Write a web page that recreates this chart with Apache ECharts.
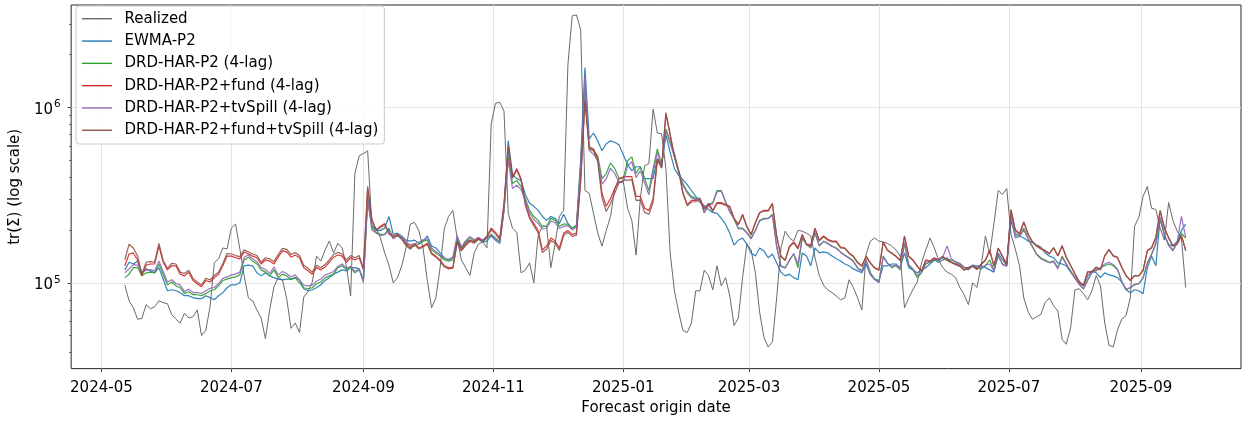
<!DOCTYPE html>
<html>
<head>
<meta charset="utf-8">
<title>tr(Σ) forecasts vs realized</title>
<script src="https://cdn.jsdelivr.net/npm/echarts@6/dist/echarts.min.js"></script>
<style>
  html, body { margin: 0; padding: 0; background: #ffffff; }
  #chart { width: 1248px; height: 421px; }
</style>
</head>
<body>
<div id="chart"></div>
<script>
// Daily forecast origins, sampled every second day from 2024-05-12.
const START_DATE = Date.UTC(2024, 4, 12);
const STEP_DAYS = 2;
const DAY_MS = 86400000;
// Series values are written in thousands.
const UNIT = 1000;

const realized = [
  97, 79, 72, 62, 62.6, 75, 71, 73, 79, 77,
  76, 66, 62, 59, 67, 63, 64, 70, 50, 53.5,
  73, 130, 137, 158, 156, 205, 216, 156, 110, 82,
  79, 70, 63, 48, 70, 95, 107, 104, 81, 55,
  59, 52, 83, 89, 101, 142, 133, 154, 173, 148,
  168, 158, 125, 84, 420, 530, 545, 566, 210, 205,
  180, 148, 126, 100, 107, 125, 158, 216, 221, 199,
  158, 103, 72, 82, 122, 205, 239, 259, 180, 135,
  122, 110, 148, 166, 171, 158, 805, 1057, 1071, 953,
  249, 205, 194, 114, 118, 130, 100, 185, 210, 210,
  122, 168, 239, 259, 1758, 3330, 3373, 2773, 336, 324,
  249, 192, 162, 199, 239, 345, 378, 378, 266, 227,
  144, 303, 466, 478, 978, 715, 707, 448, 148, 90,
  68, 53.5, 52, 59, 90, 90, 118, 110, 91, 125,
  96, 107, 84, 57, 63, 107, 166, 154, 114, 68,
  49, 43, 46, 82, 158, 197, 180, 173, 199, 197,
  192, 185, 139, 110, 97, 91, 88, 84, 80, 82,
  104, 94, 82, 70, 146, 173, 180, 173, 171, 168,
  162, 154, 142, 72, 82, 92, 101, 130, 154, 180,
  158, 135, 122, 115, 112, 107, 94, 85.5, 75, 100,
  94, 125, 185, 146, 218, 336, 319, 345, 189, 156,
  125, 82, 68.5, 62, 64, 66, 77, 82, 74, 69,
  47.6, 44.6, 55.6, 91, 92.5, 86.7, 80, 90, 110, 96,
  59, 44, 43, 54, 62, 65, 82, 210, 236, 311,
  354, 266, 262, 205, 175, 287, 227, 197, 180, 94
];

const ewmaP2 = [
  118.5, 131, 128, 133, 114, 120, 117, 114, 122, 105,
  90.1, 91.3, 90.1, 87.8, 84.4, 84.4, 82.3, 81.2, 81.2, 84.4,
  82.3, 80.1, 84.4, 87.8, 93.7, 97.4, 97.4, 100, 125, 126,
  125, 114, 109.5, 114, 109.5, 107, 105, 104, 105, 105,
  107, 104, 92.5, 90.1, 91.3, 93.7, 97.4, 103, 107, 112,
  115, 118.5, 117, 122, 122, 120, 104, 303, 210, 199,
  199, 205, 239, 189, 192, 185, 175, 173, 175, 168,
  173, 185, 162, 158, 148, 139, 135, 139, 173, 158,
  171, 175, 171, 177, 171, 173, 185, 175, 168, 259,
  645, 414, 393, 383, 319, 284, 273, 259, 239, 227,
  239, 233, 218, 246, 218, 205, 210, 510, 1691, 662,
  715, 645, 566, 621, 645, 633, 612, 538, 472, 436,
  459, 459, 393, 393, 393, 510, 472, 697, 555, 448,
  409, 388, 363, 336, 311, 287, 276, 262, 252, 249,
  233, 216, 192, 164, 175, 180, 166, 148, 142, 158,
  152, 139, 146, 130, 115, 109.5, 112, 107, 104, 148,
  142, 125, 158, 148, 150, 148, 142, 137, 133, 128,
  125, 120, 117, 114, 128, 111, 105, 103, 125, 125,
  128, 128, 122, 148, 122, 118.5, 114, 118.5, 122, 128,
  135, 131, 135, 139, 131, 128, 128, 122, 122, 126,
  125, 125, 122, 118.5, 115, 148, 135, 126, 227, 185,
  185, 180, 173, 171, 164, 160, 148, 142, 139, 130,
  128, 125, 115, 107, 100, 96.2, 109.5, 117, 114, 107,
  114, 111, 109.5, 107, 101, 91.3, 87.8, 91.3, 90.1, 86.7,
  122, 142, 125, 233, 185, 166, 162, 173, 199, 216
];

const drdHar = [
  107, 112, 122, 122, 109.5, 114, 115, 114, 128, 112,
  97.4, 101, 96.2, 93.7, 86.7, 88.9, 85.5, 85.5, 84.4, 86.7,
  90.1, 91.3, 96.2, 103, 105, 107, 108, 111, 135, 140,
  133, 128, 118.5, 115, 109.5, 118.5, 107, 112, 109.5, 104,
  107, 100, 93.7, 92.5, 93.7, 98.7, 101, 107, 109.5, 112,
  122, 125, 118.5, 122, 114, 118.5, 104, 303, 205, 194,
  189, 189, 205, 180, 185, 180, 168, 162, 162, 166,
  173, 175, 154, 148, 142, 135, 133, 135, 180, 158,
  171, 180, 173, 180, 173, 180, 189, 180, 171, 266,
  523, 368, 383, 354, 303, 259, 239, 227, 210, 210,
  233, 227, 210, 216, 216, 205, 213, 448, 1303, 596,
  566, 530, 393, 420, 484, 448, 393, 393, 497, 523,
  420, 459, 393, 336, 448, 581, 472, 754, 645, 545,
  436, 368, 332, 311, 303, 303, 252, 280, 287, 336,
  336, 291, 256, 233, 205, 205, 194, 180, 199, 227,
  233, 233, 246, 162, 125, 122, 135, 146, 122, 180,
  166, 158, 192, 162, 173, 168, 162, 158, 150, 144,
  139, 133, 122, 117, 135, 114, 105, 101, 142, 130,
  122, 125, 118.5, 168, 125, 118.5, 107, 114, 128, 131,
  135, 135, 139, 135, 135, 131, 128, 122, 118.5, 125,
  122, 120, 125, 135, 118.5, 142, 128, 125, 246, 192,
  185, 205, 180, 162, 146, 139, 135, 131, 133, 122,
  142, 128, 117, 107, 98.7, 92.5, 104, 115, 118.5, 122,
  125, 128, 125, 118.5, 101, 91.3, 93.7, 97.4, 98.7, 107,
  130, 146, 168, 233, 189, 164, 154, 168, 192, 180
];

const drdHarFund = [
  125, 146, 148, 135, 109.5, 126, 128, 128, 162, 131,
  118.5, 125, 125, 112, 109.5, 115, 103, 98.7, 94.9, 103,
  101, 107, 112, 125, 142, 142, 139, 137, 150, 146,
  142, 139, 128, 135, 133, 128, 140, 152, 150, 140,
  144, 139, 122, 117, 112, 122, 118.5, 123, 131, 140,
  144, 142, 131, 139, 135, 139, 118.5, 345, 227, 199,
  210, 218, 192, 185, 189, 180, 166, 158, 168, 158,
  162, 168, 148, 142, 135, 125, 122, 122, 171, 154,
  166, 175, 171, 180, 175, 185, 205, 194, 180, 284,
  596, 403, 448, 393, 284, 239, 218, 199, 154, 162,
  180, 173, 158, 192, 199, 189, 192, 393, 1114, 596,
  581, 510, 324, 273, 303, 345, 393, 403, 403, 403,
  311, 311, 266, 259, 303, 510, 459, 917, 697, 523,
  436, 328, 280, 295, 295, 303, 266, 284, 259, 287,
  287, 280, 273, 233, 216, 246, 210, 189, 221, 252,
  259, 259, 284, 185, 142, 135, 162, 171, 158, 189,
  166, 164, 205, 175, 185, 177, 173, 173, 160, 158,
  148, 142, 131, 125, 142, 130, 122, 118.5, 171, 154,
  148, 142, 135, 185, 142, 135, 125, 117, 135, 133,
  139, 135, 142, 135, 131, 128, 125, 118.5, 122, 125,
  120, 128, 135, 154, 125, 158, 142, 128, 259, 199,
  189, 221, 189, 171, 162, 156, 152, 146, 158, 142,
  162, 139, 125, 112, 101, 96.2, 115, 115, 122, 118.5,
  142, 154, 142, 139, 122, 109.5, 103, 109.5, 109.5, 117,
  152, 158, 180, 256, 205, 180, 162, 166, 185, 154
];

const drdHarSpill = [
  114, 120, 127, 126, 114, 118, 119, 117, 133, 116,
  101, 104, 99, 97, 89, 92, 88, 88, 87, 90,
  93, 94, 99, 106, 108, 111, 112, 115, 140, 144,
  137, 132, 122, 119, 113, 123, 111, 116, 113, 108,
  111, 104, 97, 96, 97, 102, 105, 111, 113, 116,
  124, 128, 121, 124, 116, 120, 100, 296, 200, 192,
  186, 188, 200, 178, 186, 182, 171, 165, 167, 170,
  176, 178, 158, 151, 144, 138, 136, 140, 186, 160,
  174, 184, 176, 182, 175, 181, 186, 178, 168, 258,
  500, 345, 360, 340, 295, 250, 230, 218, 203, 204,
  225, 220, 204, 210, 212, 200, 208, 470, 1500, 570,
  540, 505, 365, 392, 450, 420, 372, 374, 465, 490,
  398, 435, 372, 318, 425, 555, 455, 735, 620, 525,
  425, 360, 325, 305, 298, 300, 250, 276, 283, 330,
  333, 289, 253, 231, 203, 203, 192, 178, 198, 225,
  231, 232, 243, 160, 124, 121, 134, 147, 128, 182,
  167, 159, 194, 163, 172, 167, 161, 157, 149, 143,
  138, 132, 121, 116, 134, 113, 104, 100, 140, 129,
  124, 127, 120, 170, 127, 120, 110, 115, 129, 132,
  136, 137, 141, 162, 137, 132, 129, 123, 119, 126,
  123, 121, 126, 128, 117, 144, 127, 124, 250, 180,
  183, 200, 178, 160, 145, 137, 133, 130, 132, 120,
  140, 127, 116, 106, 98, 92, 103, 114, 117, 121,
  128, 131, 127, 120, 102, 92, 94, 98, 99, 106,
  128, 145, 166, 238, 190, 163, 152, 170, 239, 182
];

const drdHarFundSpill = [
  135, 166, 158, 142, 112, 131, 132, 131, 168, 134,
  121, 129, 128, 115, 113, 118, 106, 101, 97, 106,
  104, 110, 115, 129, 147, 146, 143, 141, 154, 150,
  146, 143, 131, 139, 137, 132, 145, 157, 155, 145,
  149, 143, 126, 121, 115, 126, 122, 127, 135, 145,
  149, 146, 135, 143, 139, 143, 121, 355, 230, 201,
  207, 214, 190, 182, 186, 177, 163, 155, 165, 156,
  160, 166, 146, 140, 133, 123, 120, 121, 169, 152,
  163, 172, 168, 177, 172, 182, 200, 190, 176, 278,
  580, 395, 440, 385, 278, 233, 212, 193, 149, 156,
  174, 168, 153, 186, 194, 184, 187, 380, 1080, 580,
  566, 490, 305, 255, 283, 325, 372, 385, 385, 388,
  295, 296, 252, 246, 288, 500, 450, 935, 705, 525,
  432, 323, 275, 289, 290, 298, 262, 280, 255, 283,
  283, 276, 270, 230, 214, 243, 208, 187, 219, 250,
  257, 256, 281, 184, 141, 134, 160, 169, 156, 187,
  164, 163, 203, 173, 183, 175, 171, 171, 158, 157,
  147, 141, 130, 124, 141, 129, 121, 118, 170, 153,
  147, 141, 134, 183, 141, 134, 124, 116, 134, 132,
  138, 134, 141, 134, 130, 127, 124, 118, 121, 124,
  119, 127, 134, 153, 124, 157, 141, 127, 262, 201,
  191, 223, 191, 172, 163, 157, 153, 147, 159, 143,
  163, 140, 126, 113, 102, 97, 116, 116, 123, 119,
  143, 155, 143, 140, 123, 110, 104, 110, 110, 118,
  153, 159, 182, 260, 207, 181, 163, 167, 187, 152
];

const seriesNames = [
  'Realized',
  'EWMA-P2',
  'DRD-HAR-P2 (4-lag)',
  'DRD-HAR-P2+fund (4-lag)',
  'DRD-HAR-P2+tvSpill (4-lag)',
  'DRD-HAR-P2+fund+tvSpill (4-lag)'
];
const seriesValues = [realized, ewmaP2, drdHar, drdHarFund, drdHarSpill, drdHarFundSpill];

// Axis tick labels
const monthTickLabels = ['2024-05', '2024-07', '2024-09', '2024-11', '2025-01',
                         '2025-03', '2025-05', '2025-07', '2025-09'];
const yMajorTicks = [1e5, 1e6];
const yMinorTicks = [4e4, 5e4, 6e4, 7e4, 8e4, 9e4, 2e5, 3e5, 4e5, 5e5, 6e5, 7e5, 8e5, 9e5, 2e6, 3e6];

// ---- presentation ----
const FONT = 'DejaVu Sans';
const FONT_SIZE = 15;
const colors = ['#6a6a6a', '#1f77b4', '#2ca02c', '#d62728', '#9467bd', '#8c564b'];
const widths = [1.0, 1.2, 1.2, 1.2, 1.2, 1.2];

const monthStart = s => {
  const [y, m] = s.split('-').map(Number);
  return Date.UTC(y, m - 1, 1);
};
const monthTickValues = monthTickLabels.map(monthStart);
const fmtMonth = v => {
  const d = new Date(v);
  return d.getUTCFullYear() + '-' + String(d.getUTCMonth() + 1).padStart(2, '0');
};

const dates = realized.map((_, i) => START_DATE + i * STEP_DAYS * DAY_MS);

// visible window: a small margin either side of the data
const xMin = Date.UTC(2024, 4, 1) - 14.19 * DAY_MS;
const xMax = Date.UTC(2024, 4, 1) + 534.97 * DAY_MS;
const yMin = 32400;
const yMax = 3842000;

const tickLine = { color: '#222222', width: 0.9 };
const gridLine = { color: '#e3e3e3', width: 1 };

const series = seriesNames.map((name, k) => ({
  name: name,
  type: 'line',
  xAxisIndex: 0,
  yAxisIndex: 0,
  data: seriesValues[k].map((v, i) => [dates[i], v * UNIT]),
  showSymbol: false,
  symbol: 'none',
  silent: true,
  color: colors[k],
  lineStyle: { color: colors[k], width: widths[k], opacity: k === 0 ? 1 : 0.92 },
  itemStyle: { color: colors[k] },
  emphasis: { disabled: true },
  z: 2 + k * 0.01
}));

const chart = echarts.init(document.getElementById('chart'), null, { renderer: 'canvas' });

chart.setOption({
  animation: false,
  backgroundColor: '#ffffff',
  textStyle: { fontFamily: FONT },
  grid: {
    left: 68, right: 7, top: 5, bottom: 49.5,
    show: true,
    borderColor: '#262626',
    borderWidth: 1,
    backgroundColor: 'transparent'
  },
  legend: {
    data: seriesNames,
    orient: 'vertical',
    left: 76,
    top: 6,
    icon: 'rect',
    itemWidth: 30,
    itemHeight: 1.4,
    itemGap: 0,
    padding: [1.6, 6, 2.6, 6],
    backgroundColor: 'rgba(255,255,255,0.8)',
    borderColor: '#cccccc',
    borderWidth: 1,
    borderRadius: 3,
    selectedMode: false,
    textStyle: {
      fontFamily: FONT,
      fontSize: FONT_SIZE,
      color: '#000000',
      lineHeight: 22.3,
      padding: [0, 0, 0, 7.5]
    }
  },
  xAxis: {
    // dates are plotted as epoch milliseconds on a linear axis
    type: 'value',
    min: xMin,
    max: xMax,
    axisLine: { show: false },
    axisTick: { show: true, customValues: monthTickValues, length: 3.5, lineStyle: tickLine },
    axisLabel: {
      customValues: monthTickValues,
      formatter: fmtMonth,
      fontFamily: FONT,
      fontSize: FONT_SIZE,
      color: '#000000',
      margin: 12.5,
      hideOverlap: false
    },
    splitLine: { show: true, lineStyle: gridLine },
    name: 'Forecast origin date',
    nameLocation: 'middle',
    nameGap: 30,
    nameTextStyle: { fontFamily: FONT, fontSize: FONT_SIZE, color: '#000000' }
  },
  yAxis: [
    {
      type: 'log',
      logBase: 10,
      min: yMin,
      max: yMax,
      axisLine: { show: false },
      axisTick: { show: true, customValues: yMajorTicks, length: 3.5, lineStyle: tickLine },
      axisLabel: {
        customValues: yMajorTicks,
        formatter: v => '{b|10}{s|' + Math.round(Math.log10(v)) + '}',
        margin: 10.5,
        rich: {
          b: { fontFamily: FONT, fontSize: FONT_SIZE, color: '#000000', padding: [5, 0, 0, 0] },
          s: { fontFamily: FONT, fontSize: 10.5, color: '#000000', padding: [0, 0, 6, 1] }
        }
      },
      splitLine: { show: true, lineStyle: gridLine },
      name: 'tr(Σ) (log scale)',
      nameLocation: 'middle',
      nameGap: 38,
      nameTextStyle: { fontFamily: FONT, fontSize: FONT_SIZE, color: '#000000' }
    },
    {
      // minor ticks at 2..9 × 10^k
      type: 'log',
      logBase: 10,
      min: yMin,
      max: yMax,
      position: 'left',
      offset: 0,
      axisLine: { show: false },
      axisTick: { show: true, customValues: yMinorTicks, length: 2, lineStyle: { color: '#222222', width: 0.7 } },
      axisLabel: { show: false },
      splitLine: { show: false }
    }
  ],
  series: series
});
</script>
</body>
</html>
